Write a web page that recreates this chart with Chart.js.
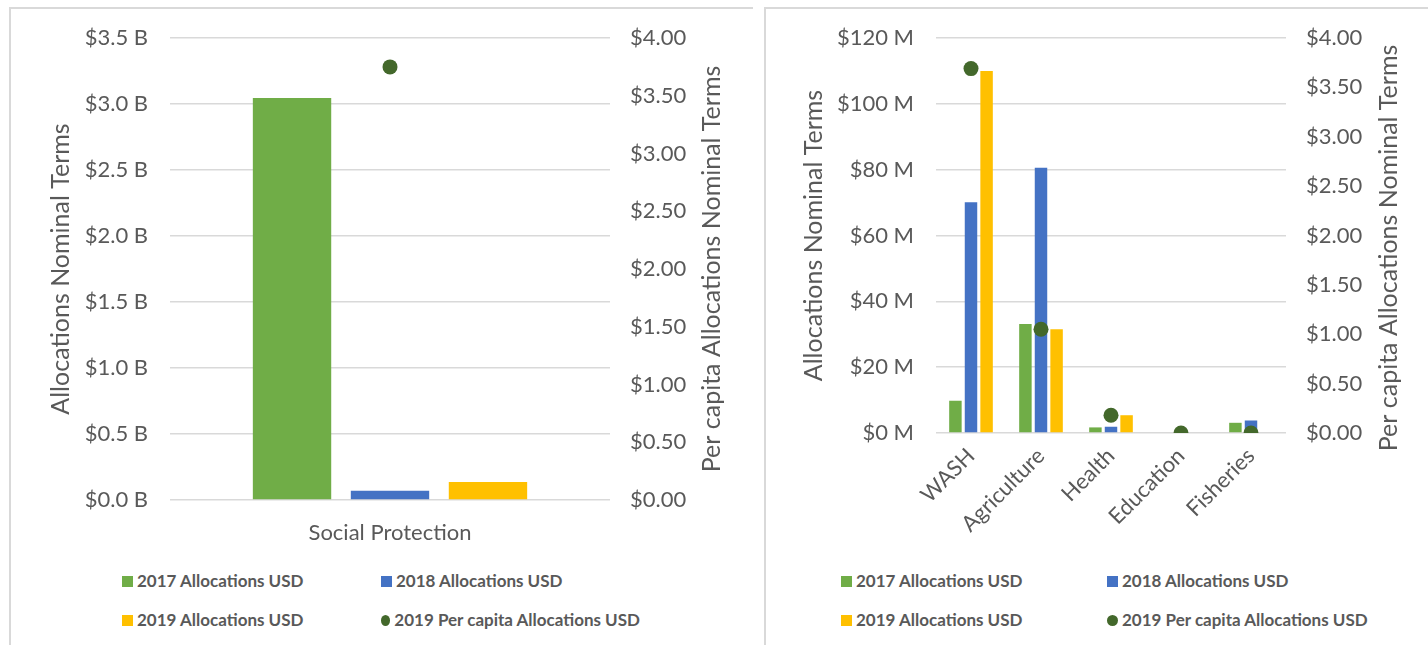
<!DOCTYPE html>
<html>
<head>
<meta charset="utf-8">
<script src="https://cdn.jsdelivr.net/npm/chart.js@4.4.1/dist/chart.umd.min.js"></script>
<style>
  body { margin: 0; width: 1428px; height: 645px; background: #fff; overflow: hidden; font-family: Lato, sans-serif; }
  .panel { position: absolute; top: 7px; height: 700px; border-left: 2px solid #d9d9d9; border-top: 2px solid #d9d9d9; box-sizing: border-box; }
  .box { position: absolute; }
  .legend { position: absolute; display: grid; row-gap: 19px; font: bold 17px Lato, sans-serif; color: #595959; }
  .legend .item { display: flex; align-items: center; line-height: 20px; white-space: nowrap; }
  .legend .mark { width: 11px; height: 11px; margin-right: 4px; }
</style>
</head>
<body>
<div class="panel" style="left:9px; width:744px;"></div>
<div class="panel" style="left:764px; width:670px;"></div>

<div class="box" style="left:12px; top:10px; width:740px; height:555px;"><canvas id="leftChart"></canvas></div>
<div class="box" style="left:767px; top:10px; width:661px; height:555px;"><canvas id="rightChart"></canvas></div>

<div class="legend" id="leftLegend" style="left:122px; top:571px; grid-template-columns: 259px 259px;"></div>
<div class="legend" id="rightLegend" style="left:841px; top:571px; grid-template-columns: 266px 266px;"></div>

<script>
// Series names
const seriesNames = ['2017 Allocations USD', '2018 Allocations USD', '2019 Allocations USD', '2019 Per capita Allocations USD'];

// Left chart data (USD)
const leftCategories = ['Social Protection'];
const left2017 = [3.046e9];
const left2018 = [0.071e9];
const left2019 = [0.137e9];
const leftPerCapita = [3.75];

// Right chart data (USD)
const rightCategories = ['WASH', 'Agriculture', 'Health', 'Education', 'Fisheries'];
const right2017 = [9.8e6, 33.1e6, 1.7e6, 0, 3.1e6];
const right2018 = [70.1e6, 80.6e6, 1.9e6, 0, 3.8e6];
const right2019 = [110.0e6, 31.5e6, 5.4e6, 0, 0];
const rightPerCapita = [3.69, 1.05, 0.18, 0, 0];

const textColor = '#595959';
const gridColor = '#d9d9d9';
const colors = ['#70ad47', '#4472c4', '#ffc000', '#43682b'];

// Right axis title reads bottom-to-top like the left one, so draw it ourselves
const rightTitlePlugin = {
    id: 'rightTitle',
    afterDraw(chart, args, opts) {
        let ctx = chart.ctx;
        let scale = chart.scales.y1;
        let x = scale.right - 20;
        let y = opts.centerY !== undefined ? opts.centerY : (chart.chartArea.top + chart.chartArea.bottom) / 2;
        ctx.save();
        ctx.translate(x, y);
        ctx.rotate(-Math.PI / 2);
        ctx.textAlign = 'center';
        ctx.textBaseline = 'middle';
        ctx.fillStyle = textColor;
        ctx.font = '25px Lato';
        ctx.fillText(opts.text, 0, 0);
        ctx.restore();
    }
};

function makeDatasets(a, b, c, d) {
    let bars = [a, b, c].map((data, i) => ({
        type: 'bar',
        label: seriesNames[i],
        data: data,
        backgroundColor: colors[i],
        yAxisID: 'y',
        categoryPercentage: 0.668,
        barPercentage: 0.8,
        order: 1,
    }));
    bars.push({
        type: 'line',
        label: seriesNames[3],
        data: d,
        showLine: false,
        pointRadius: 7.5,
        pointBackgroundColor: colors[3],
        pointBorderWidth: 0,
        yAxisID: 'y1',
        order: 0,
    });
    return bars;
}

function makeOptions(cfg) {
    return {
        responsive: true,
        maintainAspectRatio: false,
        animation: false,
        layout: { padding: { left: cfg.padLeft, right: cfg.padRight, top: 28, bottom: 0 } },
        plugins: {
            legend: { display: false },
            tooltip: { enabled: false },
            rightTitle: { text: 'Per capita Allocations Nominal Terms', centerY: cfg.titleY },
        },
        scales: {
            x: {
                grid: { display: false, drawTicks: false },
                border: { display: false },
                ticks: {
                    color: textColor,
                    font: { family: 'Lato', size: 22 },
                    padding: cfg.xPad,
                    minRotation: cfg.rotation,
                    maxRotation: cfg.rotation,
                },
                afterFit: scale => { scale.height = cfg.xHeight; },
            },
            y: {
                position: 'left',
                min: 0,
                max: cfg.yMax,
                grid: { color: gridColor, lineWidth: 1.5, drawTicks: false },
                border: { display: false },
                ticks: {
                    stepSize: cfg.yStep,
                    color: textColor,
                    font: { family: 'Lato', size: 22 },
                    padding: 22,
                    callback: cfg.yFormat,
                },
                title: {
                    display: true,
                    text: 'Allocations Nominal Terms',
                    color: textColor,
                    font: { family: 'Lato', size: 25 },
                },
                afterFit: scale => {
                    scale.width = cfg.yWidth;
                    scale.paddingTop = 0;
                    scale.paddingBottom = 0;
                },
            },
            y1: {
                position: 'right',
                min: 0,
                max: 4,
                grid: { display: false, drawTicks: false },
                border: { display: false },
                ticks: {
                    stepSize: 0.5,
                    color: textColor,
                    font: { family: 'Lato', size: 22 },
                    padding: 20,
                    callback: value => '$' + value.toFixed(2),
                },
                afterFit: scale => {
                    scale.width = cfg.y1Width;
                    scale.paddingTop = 0;
                    scale.paddingBottom = 0;
                },
            },
        },
    };
}

function buildLegend(chart, id) {
    let box = document.getElementById(id);
    chart.data.datasets.forEach((ds, i) => {
        let item = document.createElement('div');
        item.className = 'item';
        let mark = document.createElement('span');
        mark.className = 'mark';
        mark.style.background = colors[i];
        if (ds.type === 'line') mark.style.borderRadius = '50%';
        item.appendChild(mark);
        item.appendChild(document.createTextNode(ds.label));
        box.appendChild(item);
    });
}

let leftChart = new Chart(document.getElementById('leftChart'), {
    data: {
        labels: leftCategories,
        datasets: makeDatasets(left2017, left2018, left2019, leftPerCapita),
    },
    options: makeOptions({
        padLeft: 30, padRight: 20,
        yWidth: 128, y1Width: 122,
        xHeight: 65, xPad: 20, rotation: 0,
        yMax: 3.5e9, yStep: 0.5e9,
        yFormat: value => '$' + (value / 1e9).toFixed(1) + ' B',
    }),
    plugins: [rightTitlePlugin],
});

let rightChart = new Chart(document.getElementById('rightChart'), {
    data: {
        labels: rightCategories,
        datasets: makeDatasets(right2017, right2018, right2019, rightPerCapita),
    },
    options: makeOptions({
        padLeft: 28, padRight: 19,
        yWidth: 141, y1Width: 123,
        xHeight: 132, xPad: 10, rotation: 45,
        yMax: 120e6, yStep: 20e6,
        yFormat: value => '$' + Math.round(value / 1e6) + ' M',
        titleY: 238,
    }),
    plugins: [rightTitlePlugin],
});

buildLegend(leftChart, 'leftLegend');
buildLegend(rightChart, 'rightLegend');
</script>
</body>
</html>
